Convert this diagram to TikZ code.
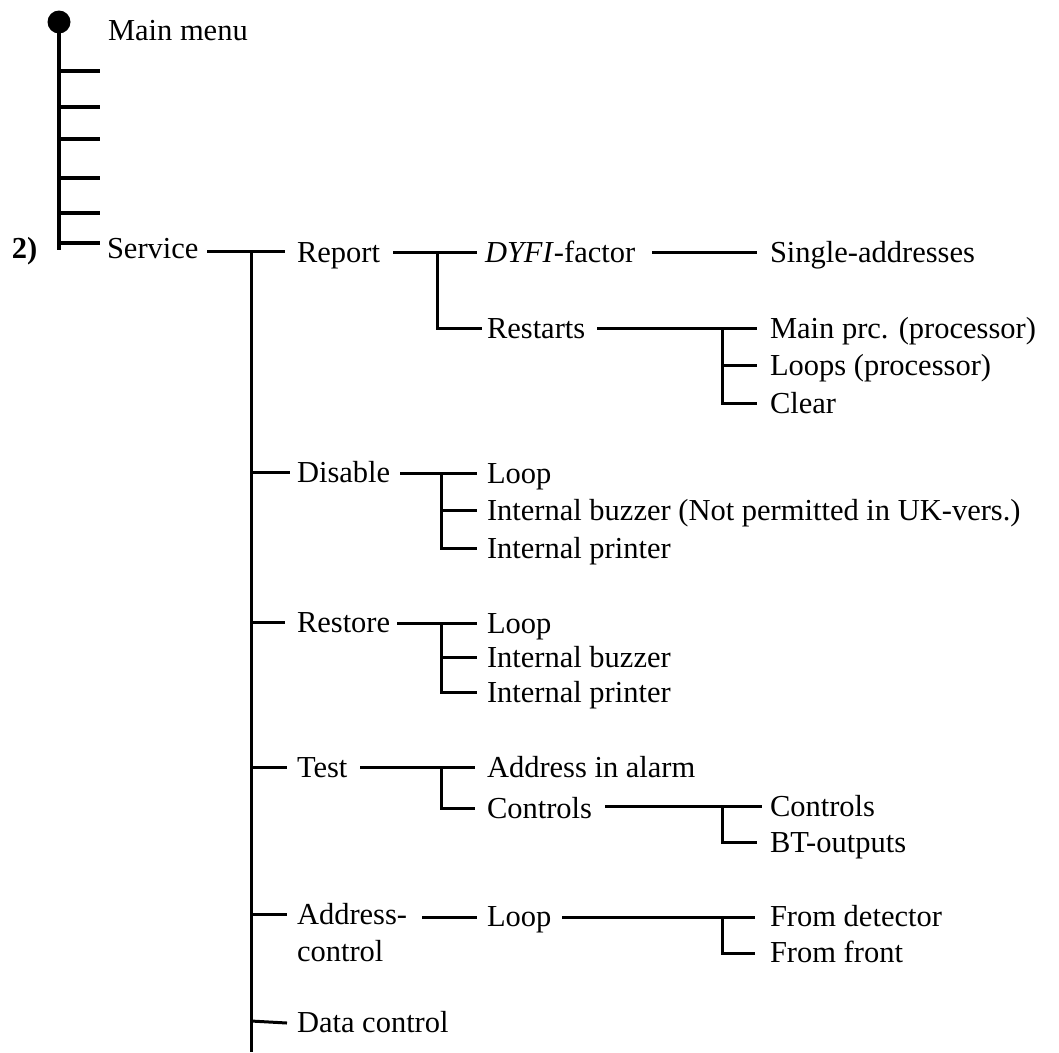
\documentclass[tikz,border=0pt]{standalone}
\usepackage{fontspec}
\newfontfamily\lblfont{Liberation Serif}
\begin{document}
\begin{tikzpicture}[x=1pt,y=-1pt,
  lbl/.style={anchor=base west, inner sep=0pt, outer sep=0pt,
    font=\fontsize{30.5}{37}\selectfont\lblfont},
  wire/.style={line width=3pt},
  trunk/.style={line width=4.3pt},
  tick/.style={line width=4pt}]
\useasboundingbox (0,0) rectangle (1059,1052);

% ---------- main menu trunk ----------
\coordinate (top) at (59,22);
\coordinate (trunkEnd) at (59,250);
\draw[trunk] (top) -- (trunkEnd);
\fill (top) circle (11.5);
\foreach \y [count=\i] in {71,107,139,178,213,243}{
  \coordinate (tk\i a) at (59,\y);
  \coordinate (tk\i b) at (100,\y);
  \draw[tick] (tk\i a) -- (tk\i b);
}
\node[lbl] (mainmenu) at (108,40) {Main menu};
\node[lbl,font=\fontsize{30.5}{37}\selectfont\lblfont\bfseries] (num) at (12,258) {2)};
\node[lbl] (service) at (107,258) {Service};

% ---------- service spine ----------
\coordinate (svcA) at (207,251);
\coordinate (svcB) at (285,251);
\coordinate (spTop) at (251,251);
\coordinate (spBot) at (251,1052);
\draw[wire] (svcA) -- (svcB);
\draw[wire] (spTop) -- (spBot);

% ---------- Report ----------
\node[lbl] (report) at (297,262) {Report};
\node[lbl] (dyfi) at (485,262) {\textit{DYFI}-factor};
\node[lbl] (single) at (770,262) {Single-addresses};
\node[lbl] (restarts) at (487,338) {Restarts};
\node[lbl] (mainprc) at (770,338) {Main prc. (processor)};
\node[lbl] (loops) at (770,375) {Loops (processor)};
\node[lbl] (clear) at (770,413) {Clear};

\coordinate (repA) at (393,252); \coordinate (repB) at (477,252);
\coordinate (repJ) at (437,252); \coordinate (repK) at (437,328);
\coordinate (rstB) at (482,328);
\draw[wire] (repA) -- (repB);
\draw[wire] (repJ) -- (repK) -- (rstB);
\coordinate (dyA) at (652,252); \coordinate (dyB) at (757,252);
\draw[wire] (dyA) -- (dyB);
\coordinate (rsA) at (597,328); \coordinate (rsB) at (757,328);
\coordinate (rsJ) at (722,328);
\draw[wire] (rsA) -- (rsB);
\draw[wire] (rsJ) -- (722,403) -- (757,403);
\draw[wire] (722,365) -- (757,365);

% ---------- Disable ----------
\node[lbl] (disable) at (297,482) {Disable};
\node[lbl] (dLoop) at (487,483) {Loop};
\node[lbl] (dBuzz) at (487,520) {Internal buzzer (Not permitted in UK-vers.)};
\node[lbl] (dPrint) at (487,558) {Internal printer};
\coordinate (dT) at (251,472); \coordinate (dTb) at (290,472);
\draw[wire] (dT) -- (dTb);
\coordinate (dA) at (400,473); \coordinate (dB) at (477,473);
\coordinate (dJ) at (441,473);
\draw[wire] (dA) -- (dB);
\draw[wire] (dJ) -- (441,548) -- (477,548);
\draw[wire] (441,510) -- (477,510);

% ---------- Restore ----------
\node[lbl] (restore) at (297,632) {Restore};
\node[lbl] (rLoop) at (487,633) {Loop};
\node[lbl] (rBuzz) at (487,667) {Internal buzzer};
\node[lbl] (rPrint) at (487,702) {Internal printer};
\coordinate (rT) at (251,622); \coordinate (rTb) at (285,622);
\draw[wire] (rT) -- (rTb);
\coordinate (rA) at (397,623); \coordinate (rB) at (477,623);
\coordinate (rJ) at (441,623);
\draw[wire] (rA) -- (rB);
\draw[wire] (rJ) -- (441,692) -- (477,692);
\draw[wire] (441,657) -- (477,657);

% ---------- Test ----------
\node[lbl] (test) at (297,777) {Test};
\node[lbl] (alarm) at (487,777) {Address in alarm};
\node[lbl] (ctrl) at (487,818) {Controls};
\node[lbl] (ctrl2) at (770,816) {Controls};
\node[lbl] (bt) at (770,852) {BT-outputs};
\coordinate (tT) at (251,767); \coordinate (tTb) at (287,767);
\draw[wire] (tT) -- (tTb);
\coordinate (tA) at (360,767); \coordinate (tB) at (475,767);
\coordinate (tJ) at (441,767);
\draw[wire] (tA) -- (tB);
\draw[wire] (tJ) -- (441,808) -- (475,808);
\coordinate (cA) at (605,806); \coordinate (cB) at (762,806);
\coordinate (cJ) at (722,806);
\draw[wire] (cA) -- (cB);
\draw[wire] (cJ) -- (722,842) -- (757,842);

% ---------- Address-control ----------
\node[lbl] (addr) at (297,924) {\vtop{\hbox{Address-}\hbox{control}}};
\node[lbl] (aLoop) at (487,926) {Loop};
\node[lbl] (fDet) at (770,926) {From detector};
\node[lbl] (fFront) at (770,962) {From front};
\coordinate (aT) at (251,914); \coordinate (aTb) at (287,914);
\draw[wire] (aT) -- (aTb);
\coordinate (aA) at (422,917); \coordinate (aB) at (477,917);
\draw[wire] (aA) -- (aB);
\coordinate (lA) at (562,917); \coordinate (lB) at (755,917);
\coordinate (lJ) at (722,917);
\draw[wire] (lA) -- (lB);
\draw[wire] (lJ) -- (722,953) -- (755,953);

% ---------- Data control ----------
\node[lbl] (data) at (297,1032) {Data control};
\coordinate (dcT) at (251,1021); \coordinate (dcTb) at (287,1023);
\draw[wire] (dcT) -- (dcTb);
\end{tikzpicture}
\end{document}
